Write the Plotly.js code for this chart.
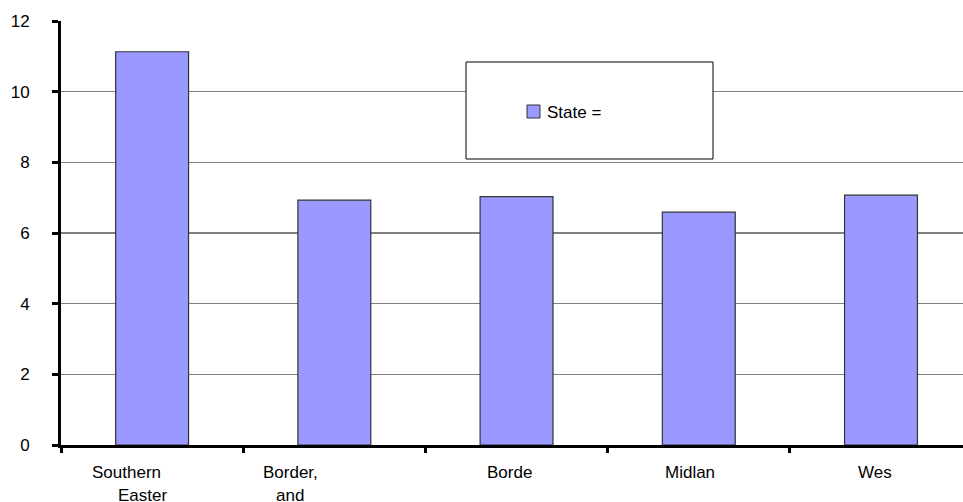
<!DOCTYPE html>
<html>
<head>
<meta charset="utf-8">
<script src="https://cdn.plot.ly/plotly-3.0.1.min.js"></script>
<style>html,body{margin:0;padding:0;background:#fff;}#chart{width:963px;height:502px;}</style>
</head>
<body>
<div id="chart"></div>
<script>
const categories = ["Southern and Eastern", "Border, Midland and Western", "Border", "Midland", "West"];
const labelLines = [["Southern", "Easter"], ["Border,", "and"], ["Borde"], ["Midlan"], ["Wes"]];
const labelShifts = [[-26, -10], [-44, -44], [-7], [-9], [-6]];
const values = [11.13, 6.93, 7.03, 6.59, 7.07];
const seriesName = "State =";
const yTicks = [0, 2, 4, 6, 8, 10, 12];

const FONT = "Liberation Sans, Arial, sans-serif";
const W = 902, H = 424;          // plot area size in px
const px = v => (v - 61) / W;    // page x -> paper
const py = v => (445 - v) / H;   // page y -> paper

const trace = {
  type: "bar",
  x: categories,
  y: values,
  name: seriesName,
  showlegend: false,
  marker: {color: "#9999FF", line: {color: "#333333", width: 1.2}},
  hoverinfo: "skip"
};

const annotations = [];
categories.forEach((c, i) => {
  labelLines[i].forEach((t, j) => {
    annotations.push({
      x: c, xref: "x", y: 0, yref: "paper",
      yanchor: "top", xanchor: "center",
      yshift: -16 - j * 23, xshift: labelShifts[i][j],
      text: t, showarrow: false,
      font: {family: FONT, size: 17, color: "#000"}
    });
  });
});
// legend text
annotations.push({
  x: px(545), xref: "paper", y: py(112), yref: "paper",
  xanchor: "left", yanchor: "middle", showarrow: false,
  text: seriesName, font: {family: FONT, size: 17, color: "#000"}
});

const layout = {
  width: 963, height: 502,
  margin: {l: 61, r: 0, t: 21, b: 57, pad: 0},
  paper_bgcolor: "#fff", plot_bgcolor: "#fff",
  bargap: 0.6,
  font: {family: FONT, size: 17, color: "#000"},
  xaxis: {
    type: "category",
    range: [-0.5, 4.45],
    showticklabels: false,
    ticks: "outside", tickson: "boundaries", ticklen: 5, tickwidth: 3, tickcolor: "#000",
    showline: true, linecolor: "#000", linewidth: 3,
    showgrid: false, zeroline: false, fixedrange: true
  },
  yaxis: {
    range: [0, 12],
    tickvals: yTicks,
    ticks: "outside", ticklen: 6, tickwidth: 3, tickcolor: "#000",
    showline: true, linecolor: "#000", linewidth: 3,
    showgrid: true, gridcolor: "#808080", gridwidth: 1.3,
    zeroline: false,
    tickfont: {family: FONT, size: 17},
    ticklabelstandoff: 19,
    fixedrange: true
  },
  shapes: [
    {
      type: "rect", xref: "paper", yref: "paper", layer: "above",
      x0: px(466), x1: px(713), y0: py(159), y1: py(62),
      fillcolor: "#fff", line: {color: "#000", width: 1}
    },
    {
      type: "rect", xref: "paper", yref: "paper", layer: "above",
      x0: px(527), x1: px(540), y0: py(118), y1: py(105),
      fillcolor: "#9999FF", line: {color: "#333333", width: 1}
    }
  ],
  showlegend: false,
  annotations: annotations
};

Plotly.newPlot("chart", [trace], layout, {displayModeBar: false, staticPlot: true});
</script>
</body>
</html>
